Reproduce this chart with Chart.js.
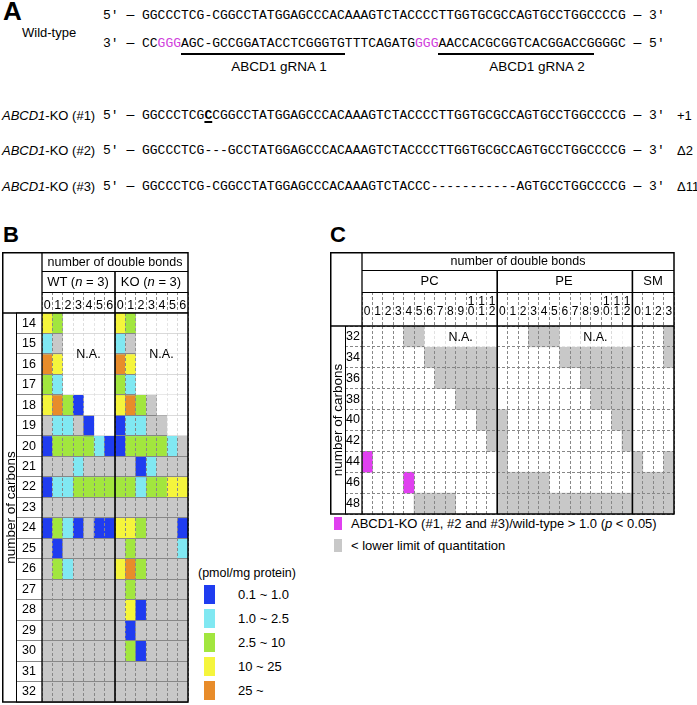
<!DOCTYPE html>
<html>
<head>
<meta charset="utf-8">
<script src="https://cdn.jsdelivr.net/npm/chart.js@4.4.1/dist/chart.umd.min.js"></script>
<style>
  body { margin: 0; background: #fff; }
  #page { position: relative; width: 697px; height: 705px; overflow: hidden; font-family: "Liberation Sans", Arial, sans-serif; color: #000; }
  .t { position: absolute; white-space: nowrap; font-size: 13px; line-height: 16px; }
  .c { width: 200px; text-align: center; }
  .seq { position: absolute; white-space: pre; font-family: "Liberation Mono", "Courier New", monospace; font-size: 13px; line-height: 16px; }
  .mag { color: #d040dc; }
  .box { position: absolute; }
  canvas { position: absolute; }
</style>
</head>
<body>
<div id="page">
  <canvas id="chartB" width="187" height="451" style="left:2px;top:252px"></canvas>
  <canvas id="chartC" width="345" height="263" style="left:330px;top:252px"></canvas>

  <!-- panel A -->
  <div class="t" style="left:3px;top:-2px;font-size:26px;line-height:26px;font-weight:bold">A</div>
  <div class="t" style="left:22px;top:25px">Wild-type</div>
  <div class="seq" style="left:103px;top:8px">5′ — GGCCCTCG-CGGCCTATGGAGCCCACAAAGTCTACCCCTTGGTGCGCCAGTGCCTGGCCCCG — 3′</div>
  <div class="seq" style="left:103px;top:36px">3′ — CC<span class="mag">GGG</span>AGC-GCCGGATACCTCGGGTGTTTCAGATG<span class="mag">GGG</span>AACCACGCGGTCACGGACCGGGGC — 5′</div>
  <div class="box" style="left:181px;top:53px;width:164px;height:1.5px;background:#000"></div>
  <div class="box" style="left:438px;top:53px;width:156px;height:1.5px;background:#000"></div>
  <div class="t c" style="left:179px;top:59px;font-size:13.5px">ABCD1 gRNA 1</div>
  <div class="t c" style="left:437px;top:59px;font-size:13.5px">ABCD1 gRNA 2</div>

  <div class="t" style="left:2px;top:107.5px"><i>ABCD1</i>-KO (#1)</div>
  <div class="seq" style="left:103px;top:107.5px">5′ — GGCCCTCG<b style="text-decoration:underline;text-decoration-thickness:2px;text-underline-offset:2px">C</b>CGGCCTATGGAGCCCACAAAGTCTACCCCTTGGTGCGCCAGTGCCTGGCCCCG — 3′</div>
  <div class="t" style="left:677px;top:107.5px">+1</div>
  <div class="t" style="left:2px;top:143px"><i>ABCD1</i>-KO (#2)</div>
  <div class="seq" style="left:103px;top:143px">5′ — GGCCCTCG---GCCTATGGAGCCCACAAAGTCTACCCCTTGGTGCGCCAGTGCCTGGCCCCG — 3′</div>
  <div class="t" style="left:677px;top:143px">Δ2</div>
  <div class="t" style="left:2px;top:178.5px"><i>ABCD1</i>-KO (#3)</div>
  <div class="seq" style="left:103px;top:178.5px">5′ — GGCCCTCG-CGGCCTATGGAGCCCACAAAGTCTACCC-----------AGTGCCTGGCCCCG — 3′</div>
  <div class="t" style="left:677px;top:178.5px">Δ11</div>

  <!-- panel B headers -->
  <div class="t" style="left:3px;top:224px;font-size:22px;line-height:22px;font-weight:bold">B</div>
  <div class="t c" style="left:15px;top:253.5px;font-size:12.5px">number of double bonds</div>
  <div class="t c" style="left:-22px;top:274px">WT (<i>n</i> = 3)</div>
  <div class="t c" style="left:51px;top:274px">KO (<i>n</i> = 3)</div>
  <div class="t c" style="left:-11.5px;top:346px;font-size:12.5px">N.A.</div>
  <div class="t c" style="left:61.5px;top:346px;font-size:12.5px">N.A.</div>
  <div class="t" style="left:198px;top:564.5px;font-size:12.5px">(pmol/mg protein)</div>
  <div id="legendB"></div>

  <!-- panel C headers -->
  <div class="t" style="left:330px;top:224px;font-size:22px;line-height:22px;font-weight:bold">C</div>
  <div class="t c" style="left:418px;top:253px;font-size:12.5px">number of double bonds</div>
  <div class="t c" style="left:329.5px;top:273px">PC</div>
  <div class="t c" style="left:464px;top:273px">PE</div>
  <div class="t c" style="left:553px;top:273px">SM</div>
  <div class="t c" style="left:360.7px;top:328.5px;font-size:12.5px">N.A.</div>
  <div class="t c" style="left:495.3px;top:328.5px;font-size:12.5px">N.A.</div>
  <div class="box" style="left:334px;top:517px;width:8px;height:13px;background:#e040f0"></div>
  <div class="t" style="left:351px;top:516px">ABCD1-KO (#1, #2 and #3)/wild-type &gt; 1.0 (<i>p</i> &lt; 0.05)</div>
  <div class="box" style="left:334px;top:539px;width:8px;height:13px;background:#c8c8c8"></div>
  <div class="t" style="left:351px;top:538px">&lt; lower limit of quantitation</div>
</div>

<script>
// --- PANEL B DATA (one letter per cell, columns 0..6, '.' = not analysed) ---
const CARBONS_B = ['14','15','16','17','18','19','20','21','22','23','24','25','26','27','28','29','30','31','32'];
const BONDS_B = ['0','1','2','3','4','5','6','0','1','2','3','4','5','6'];
const WT_CELLS = [
  'YG.....', 'Lg.....', 'OY.....', 'GL.....', 'YOGB...', 'gLLgB..', 'BGGGGLB',
  'gggLggg', 'BLLGGGG', 'ggggggg', 'BGLBgBB', 'gBggggg', 'gGLgggg', 'ggggggg',
  'ggggggg', 'ggggggg', 'ggggggg', 'ggggggg', 'ggggggg'
];
const KO_CELLS = [
  'YG.....', 'Lg.....', 'OY.....', 'GL.....', 'YOGg...', 'BLLgg..', 'BGGGGLg',
  'ggBLggg', 'GGLGGYY', 'ggggggg', 'YYGgggB', 'gGggggL', 'YOGgggg', 'gGggggg',
  'gYBgggg', 'gBggggg', 'gGBgggg', 'ggggggg', 'ggggggg'
];
const LEGEND_B_CODES = ['B', 'L', 'G', 'Y', 'O'];
const LEGEND_B_LABELS = ['0.1 ~ 1.0', '1.0 ~ 2.5', '2.5 ~ 10', '10 ~ 25', '25 ~'];

// --- PANEL C DATA ---
const CARBONS_C = ['32','34','36','38','40','42','44','46','48'];
const BONDS_PC = ['0','1','2','3','4','5','6','7','8','9',['1','0'],['1','1'],['1','2']];
const BONDS_PE = ['0','1','2','3','4','5','6','7','8','9',['1','0'],['1','1'],['1','2']];
const BONDS_SM = ['0','1','2','3'];
const PC_CELLS = [
  '....gg.......', '......ggggggg', '.......gggggg', '.........gggg', '...........gg',
  '............g', 'M............', '....M........', '.....gggg....'
];
const PE_CELLS = [
  '...ggg.......', '......ggggggg', '........ggggg', '.........gggg', 'g..........gg',
  'g...........g', 'g............', 'ggggg........', 'ggggggggggggg'
];
const SM_CELLS = ['...g', '...g', '....', '....', '....', '....', 'g..g', 'gggg', 'gggg'];

const CELL_COLORS = {
  B: '#1f3cf0', L: '#80e8f2', G: '#a2e63e', Y: '#f5f53c',
  O: '#e88c2a', g: '#c8c8c8', M: '#e040f0'
};
const GRID_COLOR = '#878787';

// --- TABLE FRAME PLUGIN (white cover for N.A. cells, black rules) ---
function makeFrame(cfg) {
  return {
    id: 'tableFrame',
    afterDraw(chart) {
      const { ctx, chartArea: a, scales: { x, y } } = chart;
      const colW = x.getPixelForValue(1) - x.getPixelForValue(0);
      const colEdge = c => x.getPixelForValue(c) - colW / 2;
      ctx.save();
      ctx.fillStyle = 'rgba(255,255,255,0.88)';
      cfg.cover.forEach(([c, r]) => {
        const y0 = y.getPixelForValue(r);
        ctx.fillRect(colEdge(c), y0, colW, y.getPixelForValue(r + 1) - y0);
      });
      ctx.strokeStyle = '#000';
      const line = (x1, y1, x2, y2, w) => {
        ctx.lineWidth = w;
        ctx.beginPath(); ctx.moveTo(x1, y1); ctx.lineTo(x2, y2); ctx.stroke();
      };
      line(cfg.titleCol + 0.5, a.top, cfg.titleCol + 0.5, a.bottom, 1);
      line(a.left, 0, a.left, a.bottom, 1.3);
      line(0, a.top, a.right, a.top, 1.5);
      cfg.headerRows.forEach(h => line(a.left, h + 0.5, a.right, h + 0.5, 1));
      cfg.groupBreaks.forEach(c => line(colEdge(c), cfg.headerRows[0], colEdge(c), a.bottom, 1.6));
      ctx.lineWidth = 1.5;
      ctx.strokeRect(0.75, 0.75, a.right - 0.75, a.bottom - 0.75);
      ctx.restore();
    }
  };
}

function makeTable(canvasId, rowLabels, colLabels, rows, cfg) {
  const datasets = rows.map((rowStr, r) => ({
    data: rowStr.split('').map(ch => ch === '.' ? null : [r, r + 1]),
    backgroundColor: rowStr.split('').map(ch => CELL_COLORS[ch] || 'rgba(0,0,0,0)'),
    borderWidth: 0,
    grouped: false,
    barPercentage: 1,
    categoryPercentage: 1
  }));
  const tickFont = { family: 'Liberation Sans', size: cfg.digitSize, lineHeight: 0.8 };
  return new Chart(document.getElementById(canvasId), {
    type: 'bar',
    data: { labels: colLabels, datasets: datasets },
    options: {
      responsive: false,
      animation: false,
      events: [],
      layout: { padding: { top: cfg.headTop, right: 1, bottom: 1, left: 0 } },
      plugins: { legend: { display: false }, tooltip: { enabled: false } },
      scales: {
        x: {
          position: 'top',
          offset: true,
          grid: { offset: true, z: 1, color: GRID_COLOR, tickColor: GRID_COLOR, tickLength: cfg.digitRowH, tickBorderDash: [3, 2] },
          border: { display: false, dash: [3, 2] },
          ticks: { autoSkip: false, maxRotation: 0, minRotation: 0, padding: cfg.xPad, color: '#000', font: tickFont },
          afterFit: s => { s.height = cfg.digitRowH; }
        },
        y: {
          type: 'linear',
          min: 0,
          max: rowLabels.length,
          reverse: true,
          afterBuildTicks: s => { s.ticks = rowLabels.map((_, i) => ({ value: i + 0.5 })); },
          grid: { offset: true, z: 1, color: GRID_COLOR, tickColor: GRID_COLOR, tickLength: cfg.labelColW, tickBorderDash: cfg.yDash },
          border: { display: false, dash: cfg.yDash },
          ticks: {
            padding: cfg.yPad, color: '#000',
            font: { family: 'Liberation Sans', size: 12.5 },
            callback: v => rowLabels[Math.floor(v)]
          },
          title: {
            display: true, text: 'number of carbons', color: '#000',
            font: { family: 'Liberation Sans', size: 13.5 },
            padding: { top: cfg.titlePad, bottom: 0 }
          },
          afterFit: s => { s.width = cfg.leftW; }
        }
      }
    },
    plugins: [makeFrame(cfg)]
  });
}

// --- PANEL B ---
const rowsB = WT_CELLS.map((w, i) => w + KO_CELLS[i]);
const coverB = [];
rowsB.forEach((s, r) => s.split('').forEach((ch, c) => { if (ch === '.') coverB.push([c, r]); }));
makeTable('chartB', CARBONS_B, BONDS_B, rowsB, {
  headTop: 40, digitRowH: 21, leftW: 40, labelColW: 26, titleCol: 14, digitSize: 12.5,
  xPad: -19, yPad: -20, titlePad: 1.5, yDash: [],
  headerRows: [19, 40], groupBreaks: [7], cover: coverB
});

// --- PANEL C ---
const rowsC = PC_CELLS.map((p, i) => p + PE_CELLS[i] + SM_CELLS[i]);
const coverC = [];
[6, 19].forEach(c0 => { for (let c = c0; c < c0 + 7; c++) coverC.push([c, 0]); });
makeTable('chartC', CARBONS_C, BONDS_PC.concat(BONDS_PE, BONDS_SM), rowsC, {
  headTop: 40, digitRowH: 34, leftW: 32, labelColW: 17, titleCol: 15, digitSize: 12,
  xPad: -24, yPad: -15, titlePad: 0, yDash: [3, 2],
  headerRows: [18, 40], groupBreaks: [13, 26], cover: coverC
});

// --- LEGEND B ---
const legendB = document.getElementById('legendB');
LEGEND_B_CODES.forEach((code, i) => {
  const top = 585 + i * 24;
  const sw = document.createElement('div');
  sw.className = 'box';
  sw.style.cssText = `left:204px;top:${top}px;width:11px;height:19px;background:${CELL_COLORS[code]}`;
  legendB.appendChild(sw);
  const lab = document.createElement('div');
  lab.className = 't';
  lab.style.cssText = `left:238px;top:${top + 1.5}px`;
  lab.textContent = LEGEND_B_LABELS[i];
  legendB.appendChild(lab);
});
</script>
</body>
</html>
